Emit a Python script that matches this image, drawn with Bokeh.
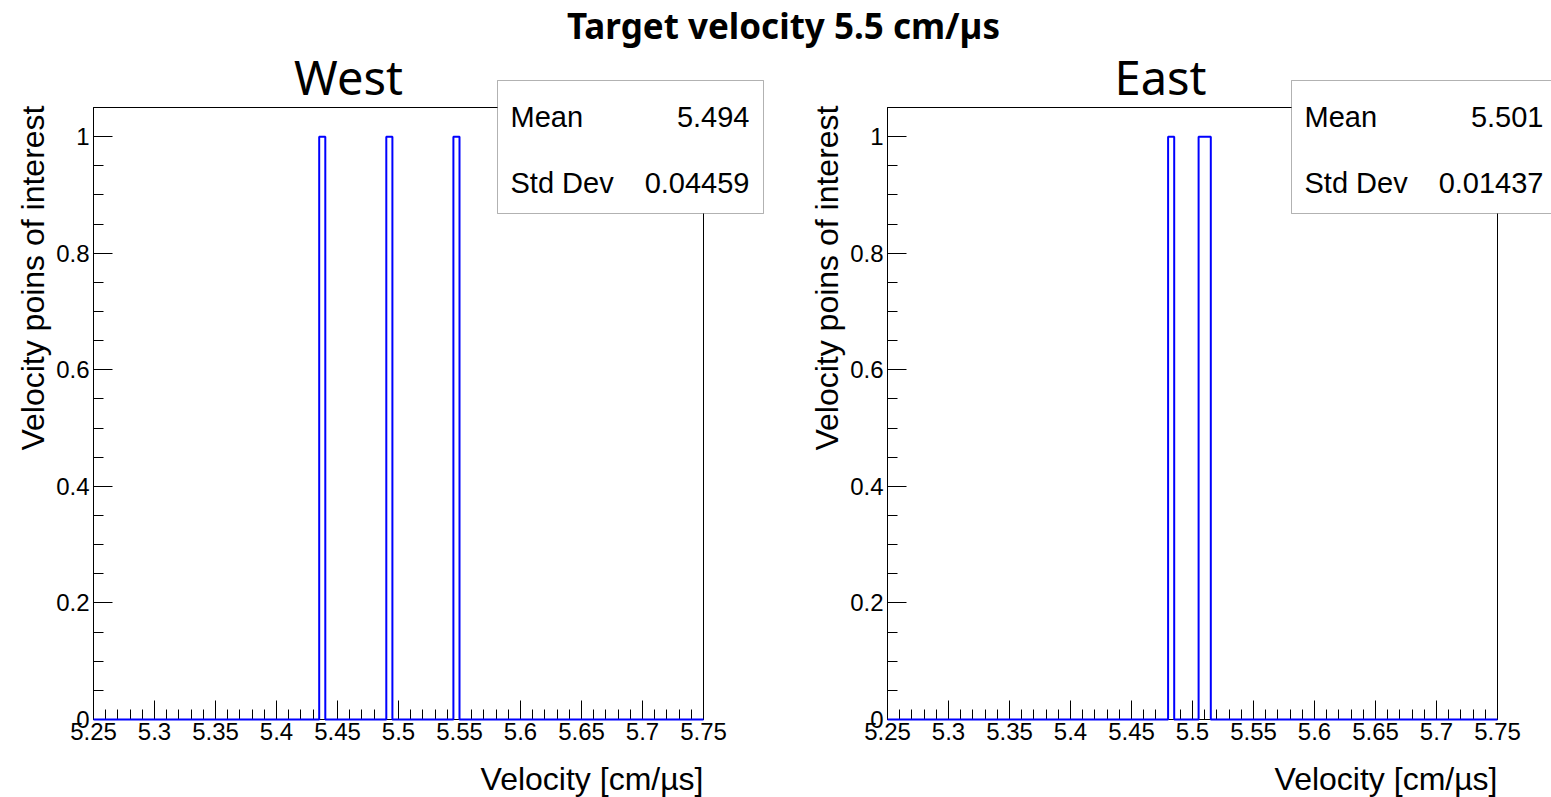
import numpy as np
from bokeh.plotting import figure
from bokeh.models import (Range1d, FixedTicker, CustomJSTickFormatter, Label,
                          BoxAnnotation, LinearAxis)
from bokeh.embed import file_html
from bokeh.resources import INLINE

# ---- data -------------------------------------------------------------
TITLE = "Target velocity 5.5 cm/µs"
panel_names = ["West", "East"]
west_velocities = [5.4375, 5.4925, 5.5475]
east_velocities = [5.4825, 5.5075, 5.5125]
stat_labels = ["Mean", "Std Dev"]
west_stats = ["5.494", "0.04459"]
east_stats = ["5.501", "0.01437"]
x_ticks = [5.25, 5.3, 5.35, 5.4, 5.45, 5.5, 5.55, 5.6, 5.65, 5.7, 5.75]
y_ticks = [0, 0.2, 0.4, 0.6, 0.8, 1.0]
X_TITLE = "Velocity [cm/µs]"
Y_TITLE = "Velocity poins of interest"
N_BINS = 100
X_MIN, X_MAX = 5.25, 5.75
Y_MAX = 1.05

# ---- layout / styling -------------------------------------------------
AXIS_FONT = "Liberation Sans"
HIST_COLOR = "#0000ff"
W, H = 1551, 797
FRAME_W, FRAME_H = 610, 612
FRAME_BOTTOM = 78                 # histogram frame bottom, from canvas bottom
FRAME_TOP = FRAME_BOTTOM + FRAME_H
PANEL_LEFT = [93, 887]            # histogram frame left edge of each pad
TITLE_CX = [348, 1160]            # centre of each pad title
RANGE_NAMES = ["default", "east"]

x_minor = [round(v, 2) for v in np.arange(X_MIN, X_MAX + 1e-9, 0.01)]
y_minor = [round(v, 2) for v in np.arange(0, Y_MAX + 1e-9, 0.05)]

fmt = CustomJSTickFormatter(code="return String(Number(tick.toFixed(3)));")


def span_range(lo, hi, px_lo, px_len, total):
    """Range whose [lo, hi] maps onto px_lo .. px_lo + px_len of the canvas."""
    scale = px_len / (hi - lo)
    return Range1d(lo - px_lo / scale, hi + (total - px_lo - px_len) / scale)


p = figure(width=W, height=H, output_backend="svg", toolbar_location=None,
           title=None, x_axis_type=None, y_axis_type=None,
           x_range=span_range(X_MIN, X_MAX, PANEL_LEFT[0], FRAME_W, W),
           y_range=span_range(0, Y_MAX, FRAME_BOTTOM, FRAME_H, H),
           min_border=0, min_border_left=0, min_border_right=0,
           min_border_top=0, min_border_bottom=0)
p.extra_x_ranges = {"east": span_range(X_MIN, X_MAX, PANEL_LEFT[1], FRAME_W, W)}
p.xgrid.visible = False
p.ygrid.visible = False
p.outline_line_color = None
p.background_fill_color = "white"
p.border_fill_color = "white"


def style_axis(ax, ticks, minor, standoff):
    ax.ticker = FixedTicker(ticks=ticks, minor_ticks=minor)
    ax.formatter = fmt
    ax.level = "underlay"
    ax.major_tick_in = 19
    ax.major_tick_out = 0
    ax.minor_tick_in = 10
    ax.minor_tick_out = 0
    ax.axis_line_color = "black"
    ax.major_tick_line_color = "black"
    ax.minor_tick_line_color = "black"
    ax.major_label_text_font = AXIS_FONT
    ax.major_label_text_font_size = "24px"
    ax.major_label_text_color = "black"
    ax.major_label_standoff = standoff


def draw_pad(idx, values, stats):
    rname = RANGE_NAMES[idx]
    left = PANEL_LEFT[idx]
    right = left + FRAME_W

    counts, edges = np.histogram(values, bins=N_BINS, range=(X_MIN, X_MAX))
    xs = np.repeat(edges, 2)[1:-1]
    ys = np.repeat(counts, 2).astype(float)

    # histogram frame and outline
    p.quad(left=[X_MIN], right=[X_MAX], bottom=[0], top=[Y_MAX],
           fill_color=None, line_color="black", line_width=1,
           x_range_name=rname)
    p.line(xs, ys, line_color=HIST_COLOR, line_width=2, x_range_name=rname)

    xaxis = LinearAxis(x_range_name=rname, fixed_location=0,
                       bounds=(X_MIN, X_MAX))
    style_axis(xaxis, x_ticks, x_minor, 3)
    p.add_layout(xaxis, "below")
    yaxis = LinearAxis(x_range_name=rname, fixed_location=X_MIN,
                       bounds=(0, Y_MAX))
    style_axis(yaxis, y_ticks, y_minor, 4)
    p.add_layout(yaxis, "left")

    # axis titles, aligned to the far end of each axis
    p.add_layout(Label(x=right, y=FRAME_BOTTOM - 59, x_units="screen",
                       y_units="screen", text=X_TITLE, text_align="right",
                       text_baseline="middle", text_font=AXIS_FONT,
                       text_font_size="32px", text_color="black"))
    p.add_layout(Label(x=left - 61, y=FRAME_TOP + 2, x_units="screen",
                       y_units="screen", text=Y_TITLE, angle=np.pi / 2,
                       text_align="right", text_baseline="middle",
                       text_font=AXIS_FONT, text_font_size="32px",
                       text_color="black"))

    # pad title
    p.add_layout(Label(x=TITLE_CX[idx], y=FRAME_TOP + 31, x_units="screen",
                       y_units="screen", text=panel_names[idx],
                       text_align="center", text_baseline="middle",
                       text_font="Noto Sans", text_font_size="47px",
                       text_color="black"))

    # statistics box
    p.add_layout(BoxAnnotation(left=right - 206, right=right + 60,
                               top=FRAME_TOP + 27, bottom=FRAME_TOP - 106,
                               left_units="screen", right_units="screen",
                               top_units="screen", bottom_units="screen",
                               fill_color="white", fill_alpha=1,
                               line_color="black", line_width=1))
    for i, (lab, val) in enumerate(zip(stat_labels, stats)):
        yy = FRAME_TOP - 9 - 66 * i
        p.add_layout(Label(x=right - 193, y=yy, x_units="screen",
                           y_units="screen", text=lab, text_align="left",
                           text_baseline="middle", text_font=AXIS_FONT,
                           text_font_size="29px", text_color="black"))
        p.add_layout(Label(x=right + 46, y=yy, x_units="screen",
                           y_units="screen", text=val, text_align="right",
                           text_baseline="middle", text_font=AXIS_FONT,
                           text_font_size="29px", text_color="black"))


draw_pad(0, west_velocities, west_stats)
draw_pad(1, east_velocities, east_stats)

# overall title
p.add_layout(Label(x=783, y=H - 25, x_units="screen", y_units="screen",
                   text=TITLE, text_align="center", text_baseline="middle",
                   text_font="Noto Sans", text_font_style="bold",
                   text_font_size="35px", text_color="black"))

open("out.html", "w").write(file_html(p, INLINE))
